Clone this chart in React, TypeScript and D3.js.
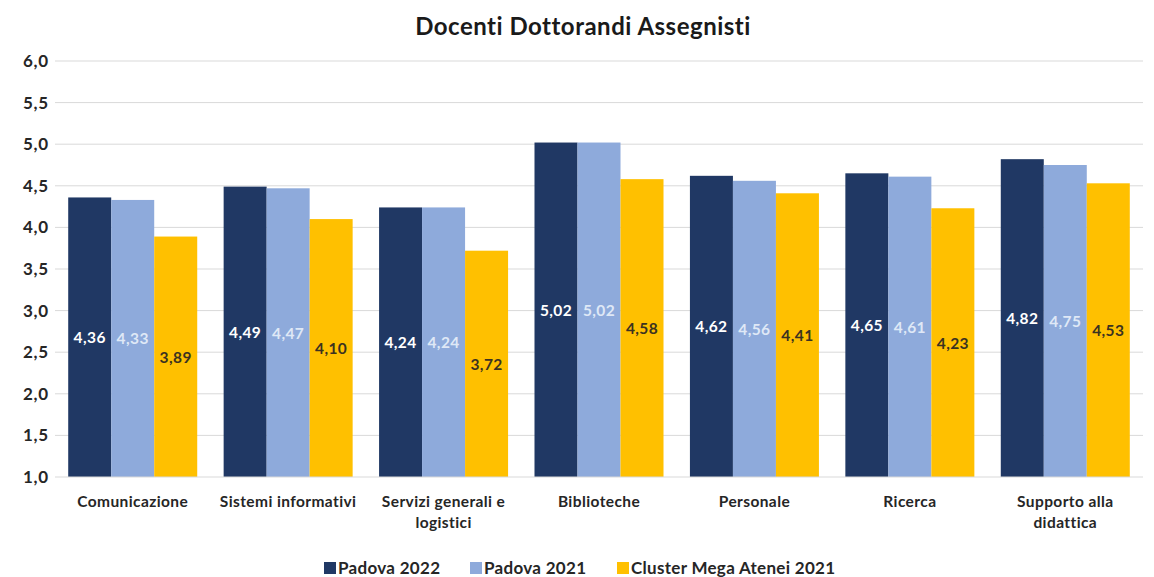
import React from "react";
import * as d3 from "d3";

const categories = [
  ["Comunicazione"],
  ["Sistemi informativi"],
  ["Servizi generali e", "logistici"],
  ["Biblioteche"],
  ["Personale"],
  ["Ricerca"],
  ["Supporto alla", "didattica"],
];
const seriesNames = ["Padova 2022", "Padova 2021", "Cluster Mega Atenei 2021"];
const padova2022 = [4.36, 4.49, 4.24, 5.02, 4.62, 4.65, 4.82];
const padova2021 = [4.33, 4.47, 4.24, 5.02, 4.56, 4.61, 4.75];
const cluster2021 = [3.89, 4.1, 3.72, 4.58, 4.41, 4.23, 4.53];
const yTicks = [1.0, 1.5, 2.0, 2.5, 3.0, 3.5, 4.0, 4.5, 5.0, 5.5, 6.0];

const colors = ["#203864", "#8eaadb", "#ffc000"];
const labelColors = ["#ffffff", "#dfe8f6", "#3b3220"];
const FONT = "Lato, 'Open Sans', sans-serif";

export default function App() {
  const W = 1154, H = 577;
  const left = 55, right = 1143, top = 61, bottom = 477;
  const series = [padova2022, padova2021, cluster2021];
  const x = d3.scaleBand<number>().domain(d3.range(categories.length)).range([left, right]).paddingInner(0.17).paddingOuter(0.085);
  const xs = d3.scaleBand<number>().domain([0, 1, 2]).range([0, x.bandwidth()]);
  const y = d3.scaleLinear().domain([1, 6]).range([bottom, top]);
  const fmt = (v: number) => v.toFixed(2).replace(".", ",");
  const fmt1 = (v: number) => v.toFixed(1).replace(".", ",");
  const legendX = [324, 470, 617];
  return (
    <svg width={W} height={H} style={{ position: "absolute", left: 0, top: 0, background: "#fff" }} fontFamily={FONT}>
      <rect width={W} height={H} fill="#fff" />
      <text x={583} y={35} textAnchor="middle" fontSize={24} fontWeight={700} letterSpacing={0.5} fill="#1a1a1a">Docenti Dottorandi Assegnisti</text>
      {yTicks.map((t) => (
        <g key={t}>
          {t > 1 && <line x1={left} x2={right} y1={y(t)} y2={y(t)} stroke="#d9d9d9" strokeWidth={1} />}
          <text x={49} y={y(t) + 6} textAnchor="end" fontSize={17} fontWeight={700} letterSpacing={0.8} fill="#262626">{fmt1(t)}</text>
        </g>
      ))}
      {series.map((s, si) =>
        s.map((v, ci) => {
          const bx = (x(ci) as number) + (xs(si) as number);
          const bw = xs.bandwidth();
          return (
            <g key={si + "-" + ci}>
              <rect x={bx} y={y(v)} width={bw} height={y(1) - y(v)} fill={colors[si]} />
              <text x={bx + bw / 2} y={(y(v) + y(1)) / 2 + 6} textAnchor="middle" fontSize={15.5} fontWeight={700} letterSpacing={0.4} fill={labelColors[si]}>{fmt(v)}</text>
            </g>
          );
        })
      )}
      <line x1={left} x2={right} y1={bottom} y2={bottom} stroke="#d9d9d9" strokeWidth={1} />
      {categories.map((lines, ci) => (
        <text key={ci} x={(x(ci) as number) + x.bandwidth() / 2} y={507} textAnchor="middle" fontSize={15.5} fontWeight={700} letterSpacing={0.4} fill="#262626">
          {lines.map((l, li) => (
            <tspan key={li} x={(x(ci) as number) + x.bandwidth() / 2} dy={li === 0 ? 0 : 21}>{l}</tspan>
          ))}
        </text>
      ))}
      {seriesNames.map((n, i) => (
        <g key={n}>
          <rect x={legendX[i]} y={562} width={12} height={12} fill={colors[i]} />
          <text x={legendX[i] + 14} y={574} fontSize={17} fontWeight={700} letterSpacing={0.3} fill="#262626">{n}</text>
        </g>
      ))}
    </svg>
  );
}
